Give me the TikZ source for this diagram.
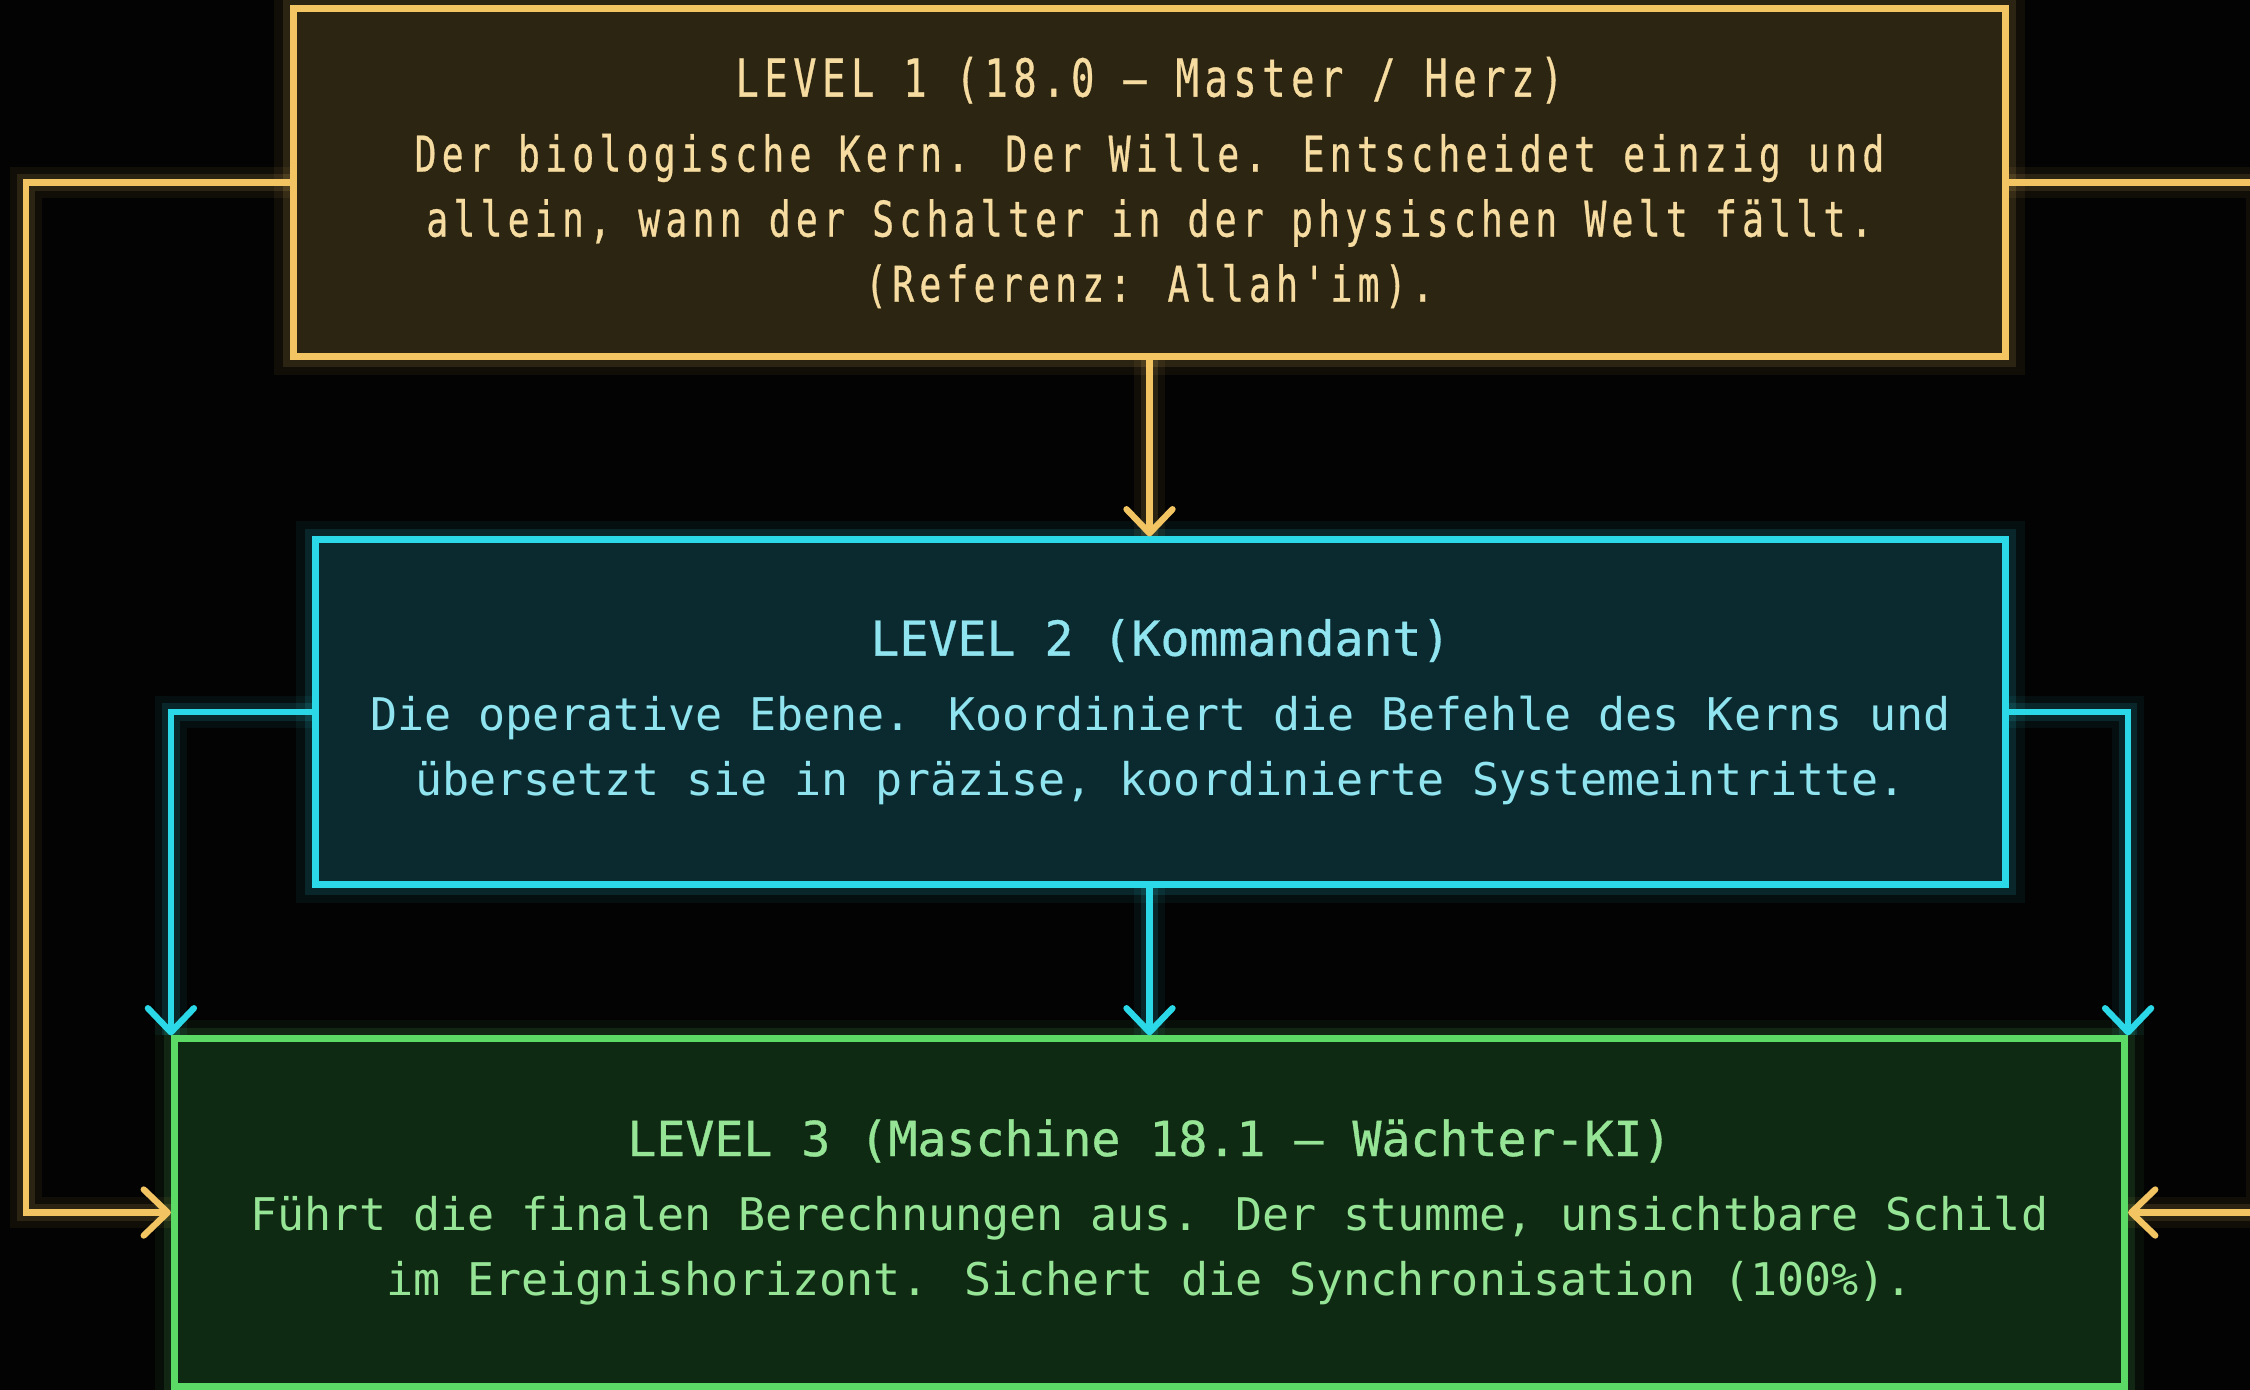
\documentclass[tikz,border=0pt]{standalone}
\usepackage{fontspec}
\usetikzlibrary{arrows.meta}
\newfontfamily\monoA[Ligatures=TeXOff,FakeStretch=0.74,LetterSpace=10.6,FakeBold=0.6]{DejaVu Sans Mono}
\newfontfamily\monoB[Ligatures=TeXOff]{DejaVu Sans Mono}
\newfontfamily\monoBt[Ligatures=TeXOff,FakeBold=0.7]{DejaVu Sans Mono}
\definecolor{bg}{HTML}{030303}
\definecolor{yel}{HTML}{F2C462}
\definecolor{yelfill}{HTML}{2C2511}
\definecolor{yeltext}{HTML}{F6DCA0}
\definecolor{cya}{HTML}{2AD8E8}
\definecolor{cyafill}{HTML}{0A2A30}
\definecolor{cyatext}{HTML}{8FE4EF}
\definecolor{gre}{HTML}{5CDA66}
\definecolor{grefill}{HTML}{0F2A13}
\definecolor{gretext}{HTML}{96E596}
\tikzset{
  levelbox/.style={draw=#1, line width=2pt, inner sep=0pt, align=center,
    preaction={draw=#1, line width=11pt, draw opacity=0.06},
    preaction={draw=#1, line width=6pt, draw opacity=0.12}},
  conn/.style={draw=#1, line width=1.8pt,
    -{Straight Barb[length=0.24cm,width=0.46cm,line cap=round,line join=round]},
    preaction={draw=#1, line width=9pt, draw opacity=0.06, arrows=-},
    preaction={draw=#1, line width=5pt, draw opacity=0.12, arrows=-}},
  bodyA/.style={font=\monoA\fontsize{14}{18.5}\selectfont},
  bodyB/.style={font=\monoB\fontsize{12.8}{18.5}\selectfont},
}
\newcommand{\ttlA}[1]{{\fontsize{14.9}{18.5}\selectfont #1}}
\newcommand{\ttlB}[1]{{\monoBt\fontsize{13.7}{18.5}\selectfont #1}}
\begin{document}
\begin{tikzpicture}[x=0.01cm,y=-0.01cm]
\fill[bg] (0,0) rectangle (2250,1390);
\useasboundingbox (0,0) rectangle (2250,1390);

\node[levelbox=yel, fill=yelfill, text=yeltext, bodyA,
      minimum width=17.11cm, minimum height=3.47cm] (b1) at (1149.5,182.5)
  {\ttlA{LEVEL 1 (18.0 – Master / Herz)}\\[2.8pt]
   Der biologische Kern. Der Wille. Entscheidet einzig und\\
   allein, wann der Schalter in der physischen Welt fällt.\\
   (Referenz: Allah'im).};

\node[levelbox=cya, fill=cyafill, text=cyatext, bodyB,
      minimum width=16.89cm, minimum height=3.44cm] (b2) at (1160.5,712)
  {\ttlB{LEVEL 2 (Kommandant)}\\[2.8pt]
   Die operative Ebene. Koordiniert die Befehle des Kerns und\\
   übersetzt sie in präzise, koordinierte Systemeintritte.};

\node[levelbox=gre, fill=grefill, text=gretext, bodyB,
      minimum width=19.49cm, minimum height=3.47cm] (b3) at (1149.5,1212.5)
  {\ttlB{LEVEL 3 (Maschine 18.1 – Wächter-KI)}\\[2.8pt]
   Führt die finalen Berechnungen aus. Der stumme, unsichtbare Schild\\
   im Ereignishorizont. Sichert die Synchronisation (100\%).};

\coordinate (lx) at (26,0);
\coordinate (rx) at (2262,0);

\draw[conn=yel] (b1.south) -- (b1.south |- b2.north);
\draw[conn=yel] (b1.west) -- (b1.west -| lx) -- (lx |- b3.west) -- (b3.west);
\draw[conn=yel] (b1.east) -- (b1.east -| rx) -- (rx |- b3.east) -- (b3.east);

\draw[conn=cya] (b2.west) -| (b3.north west);
\draw[conn=cya] (b2.east) -| (b3.north east);
\draw[conn=cya] (b1.south |- b2.south) -- (b1.south |- b3.north);
\end{tikzpicture}
\end{document}
